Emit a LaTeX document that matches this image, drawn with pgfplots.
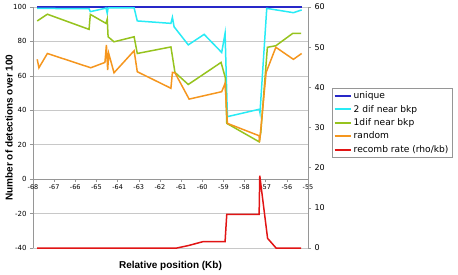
\documentclass[border=0pt]{standalone}
\usepackage{pgfplots}
\pgfplotsset{compat=1.18}
\usepackage{fontspec}
\setmainfont{DejaVu Sans}
\newfontfamily\labfont{Liberation Sans}
\definecolor{cUnique}{RGB}{40,40,200}
\definecolor{cTwo}{RGB}{40,235,245}
\definecolor{cOne}{RGB}{150,195,30}
\definecolor{cRand}{RGB}{245,150,30}
\definecolor{cRec}{RGB}{225,20,20}
\definecolor{cGrid}{RGB}{200,200,200}
\definecolor{cAxis}{RGB}{150,150,150}
\begin{document}
\begin{tikzpicture}[x=1pt,y=1pt]
\useasboundingbox (0,0) rectangle (458,274);
\begin{axis}[
  at={(33pt,26pt)}, anchor=south west,
  scale only axis, width=275pt, height=241pt,
  xmin=-68, xmax=-55, ymin=-40, ymax=100,
  axis x line=middle, axis y line=left,
  axis line style={-, draw=cAxis},
  hide obscured x ticks=false, hide obscured y ticks=false,
  xtick={-68,-67,...,-55},
  ytick={-40,-20,0,20,40,60,80,100},
  ymajorgrids, grid style={cGrid, line width=0.5pt},
  tick align=outside, major tick length=3pt,
  tick style={cAxis, line width=0.5pt},
  /pgf/number format/assume math mode=true,
  x tick label style={font=\fontsize{6.5}{7}\selectfont, yshift=1pt},
  y tick label style={font=\fontsize{7}{8}\selectfont},
  clip=false,
]
\addplot[cUnique, line width=1.5pt] coordinates {(-67.8,100) (-55.3,100)};
\addplot[cTwo, line width=1.5pt] coordinates {
(-67.8,99.2) (-65.35,99) (-65.29,97.3) (-64.6,99.2) (-64.55,99.5) (-64.49,96.3) (-64.45,99.5)
(-63.22,99.5) (-63.07,91.9) (-61.48,90.5) (-61.41,94) (-61.33,88.5) (-60.66,78) (-59.91,84.1)
(-59.08,73.6) (-58.92,84.7) (-58.81,36.3) (-57.3,40.6) (-57.27,38.6) (-56.95,99.2)
(-55.69,96.7) (-55.3,98.3)};
\addplot[cOne, line width=1.5pt] coordinates {
(-67.8,91.9) (-67.32,95.8) (-65.35,87) (-65.29,95.7) (-64.55,90.5) (-64.49,93) (-64.45,82.7)
(-64.17,79.8) (-63.22,82.7) (-63.07,73) (-61.48,76.8) (-61.29,62) (-60.66,55) (-59.11,67.8)
(-58.91,59) (-58.84,32.4) (-57.31,21.7) (-57.23,27.2) (-56.92,76.6) (-56.52,77.5)
(-55.72,84.7) (-55.33,84.7)};
\addplot[cRand, line width=1.5pt] coordinates {
(-67.8,69.6) (-67.72,64.7) (-67.32,73) (-65.27,64.7) (-64.6,67.8) (-64.53,78) (-64.47,63.4)
(-64.42,73) (-64.17,61.8) (-63.22,74.6) (-63.07,62.4) (-61.48,52.8) (-61.41,62) (-61.29,61.8)
(-60.62,46.5) (-59.08,50.8) (-58.92,55.6) (-58.81,32.4) (-57.31,25.2) (-57.29,21.5)
(-57.24,28) (-56.98,62) (-56.52,76.6) (-55.69,69.6) (-55.3,73)};
\node[font=\labfont\bfseries\fontsize{10}{12}\selectfont] at (rel axis cs:0.5,0) [yshift=-18pt] {Relative position (Kb)};
\node[xshift=-24pt, rotate=90, font=\labfont\bfseries\fontsize{10}{12}\selectfont] at (rel axis cs:0,0.5) {Number of detections over 100};
\end{axis}
\begin{axis}[
  at={(33pt,26pt)}, anchor=south west,
  scale only axis, width=275pt, height=241pt,
  xmin=-68, xmax=-55, ymin=0, ymax=60,
  axis x line=none, axis y line*=right,
  axis line style={-, draw=cAxis},
  ytick={0,10,...,60},
  tick align=outside, major tick length=3pt,
  tick style={cAxis, line width=0.5pt},
  /pgf/number format/assume math mode=true,
  y tick label style={font=\fontsize{8}{9}\selectfont},
  legend style={at={(1,1)}, anchor=north west, xshift=24pt, yshift=-81pt,
    font=\fontsize{9.1}{11}\selectfont, draw=cAxis, inner sep=1.5pt,
    row sep=1pt, cells={anchor=west}},
  legend cell align=left,
  legend image code/.code={\draw[#1, line width=2pt] (0pt,0pt) -- (16pt,0pt);},
]
\addlegendimage{cUnique}
\addlegendentry{unique}
\addlegendimage{cTwo}
\addlegendentry{2 dif near bkp}
\addlegendimage{cOne}
\addlegendentry{1dif near bkp}
\addlegendimage{cRand}
\addlegendentry{random}
\addplot[cRec, line width=1.5pt] coordinates {
(-67.8,0) (-61.2,0) (-60.66,0.6) (-59.95,1.6) (-58.92,1.6) (-58.84,8.4) (-57.31,8.4)
(-57.28,18) (-56.91,2.4) (-56.51,0) (-55.33,0)};
\addlegendentry{recomb rate (rho/kb)}
\end{axis}
\end{tikzpicture}
\end{document}
